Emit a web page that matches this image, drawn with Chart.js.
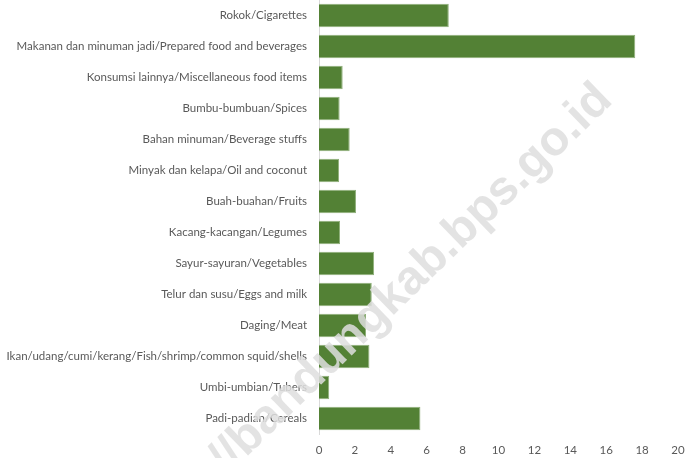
<!DOCTYPE html>
<html>
<head>
<meta charset="utf-8">
<script src="https://cdn.jsdelivr.net/npm/chart.js@4"></script>
<style>
    body { margin: 0; background: #ffffff; }
</style>
</head>
<body>
<canvas id="barGraph" width="687" height="458"></canvas>
<script>
// categories, top to bottom as in the picture
const categories = [
    "Rokok/Cigarettes",
    "Makanan dan minuman jadi/Prepared food and beverages",
    "Konsumsi lainnya/Miscellaneous food items",
    "Bumbu-bumbuan/Spices",
    "Bahan minuman/Beverage stuffs",
    "Minyak dan kelapa/Oil and coconut",
    "Buah-buahan/Fruits",
    "Kacang-kacangan/Legumes",
    "Sayur-sayuran/Vegetables",
    "Telur dan susu/Eggs and milk",
    "Daging/Meat",
    "Ikan/udang/cumi/kerang/Fish/shrimp/common squid/shells",
    "Umbi-umbian/Tubers",
    "Padi-padian/Cereals"
];
// values
const values = [7.23, 17.62, 1.32, 1.15, 1.71, 1.12, 2.06, 1.17, 3.07, 2.94, 2.62, 2.81, 0.57, 5.65];
const watermark = "https://bandungkab.bps.go.id";

// draws the faint diagonal watermark over the chart
const watermarkPlugin = {
    id: "watermark",
    afterDraw(chart) {
        let ctx = chart.ctx;
        ctx.save();
        ctx.translate(614, 102);
        ctx.rotate(-44 * Math.PI / 180);
        ctx.font = "bold 48px 'Liberation Sans', Arial, sans-serif";
        ctx.textAlign = "right";
        ctx.textBaseline = "alphabetic";
        ctx.fillStyle = "rgba(222,222,222,0.85)";
        ctx.fillText(watermark, 0, 0);
        ctx.restore();
    }
};

let barGraph = new Chart("barGraph", {
    type: "bar",
    data: {
        labels: categories,
        datasets: [{
            data: values,
            backgroundColor: "#538135",
            borderColor: "#8fb07a",
            borderWidth: 1,
            barPercentage: 0.76,
            categoryPercentage: 1
        }]
    },
    options: {
        indexAxis: "y",
        responsive: false,
        animation: false,
        layout: { padding: 0 },
        plugins: {
            legend: { display: false },
            tooltip: { enabled: false }
        },
        scales: {
            x: {
                min: 0,
                max: 20,
                ticks: { stepSize: 2, color: "#595959", font: { family: "Lato", size: 11.5 }, padding: 9, maxRotation: 0 },
                grid: { display: false, drawTicks: false },
                border: { display: false },
                afterFit: (s) => { s.height = 24; s.paddingLeft = 0; s.paddingRight = 9 } // keep "20" inside the page
            },
            y: {
                ticks: { color: "#595959", font: { family: "Lato", size: 11.5 }, padding: 12, autoSkip: false },
                grid: { display: false, drawTicks: false },
                border: { display: true, color: "#d9d9d9", width: 1 },
                afterFit: (s) => { s.width = 319; s.paddingTop = 0; s.paddingBottom = 0 } // plot starts at the top edge
            }
        }
    },
    plugins: [watermarkPlugin]
});
</script>
</body>
</html>
